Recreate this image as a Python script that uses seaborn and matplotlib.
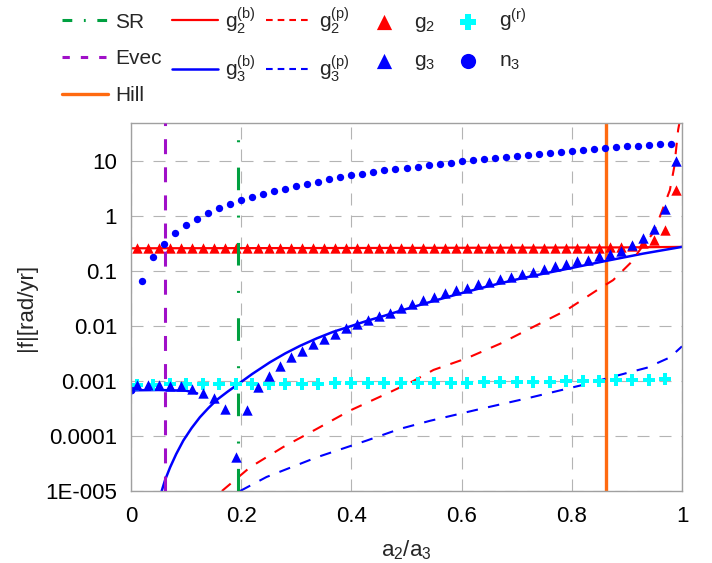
import numpy as np
import matplotlib
matplotlib.use('Agg')
import matplotlib.pyplot as plt
import seaborn as sns
from matplotlib.ticker import NullFormatter, AutoMinorLocator, LogLocator

# Style
sns.set_style('white')
plt.rcParams['font.family'] = ['Liberation Sans', 'DejaVu Sans']
plt.rcParams['mathtext.fontset'] = 'custom'
plt.rcParams['mathtext.rm'] = 'Liberation Sans'
plt.rcParams['mathtext.it'] = 'Liberation Sans'
plt.rcParams['mathtext.default'] = 'regular'

# ---- data ----
# vertical markers
x_sr = 0.195
x_evec = 0.062
x_hill = 0.862

# n3 (blue dots)
x_n3 = [0.02, 0.04, 0.06, 0.08, 0.10, 0.12, 0.14, 0.16, 0.18, 0.20,
        0.22, 0.24, 0.26, 0.28, 0.30, 0.32, 0.34, 0.36, 0.38, 0.40,
        0.42, 0.44, 0.46, 0.48, 0.50, 0.52, 0.54, 0.56, 0.58, 0.60,
        0.62, 0.64, 0.66, 0.68, 0.70, 0.72, 0.74, 0.76, 0.78, 0.80,
        0.82, 0.84, 0.86, 0.88, 0.90, 0.92, 0.94, 0.96, 0.98]
n3 = [0.067, 0.18, 0.32, 0.50, 0.69, 0.90, 1.15, 1.40, 1.68, 1.96,
      2.25, 2.55, 2.9, 3.2, 3.6, 3.9, 4.3, 4.8, 5.1, 5.6,
      6.0, 6.5, 7.0, 7.4, 7.7, 8.0, 8.6, 9.1, 9.5, 10.1,
      10.6, 11.1, 11.6, 12.2, 12.8, 13.3, 13.9, 14.5, 15.1, 15.7,
      16.2, 16.7, 17.4, 18.2, 18.9, 19.4, 20.0, 20.6, 21.1]

# g2 and g3 (triangles)
x_g = [0.01, 0.03, 0.05, 0.07, 0.09, 0.11, 0.13, 0.15, 0.17, 0.19,
       0.21, 0.23, 0.25, 0.27, 0.29, 0.31, 0.33, 0.35, 0.37, 0.39,
       0.41, 0.43, 0.45, 0.47, 0.49, 0.51, 0.53, 0.55, 0.57, 0.59,
       0.61, 0.63, 0.65, 0.67, 0.69, 0.71, 0.73, 0.75, 0.77, 0.79,
       0.81, 0.83, 0.85, 0.87, 0.89, 0.91, 0.93, 0.95, 0.97, 0.99]
g2 = [0.27, 0.27, 0.27, 0.27, 0.27, 0.27, 0.27, 0.27, 0.27, 0.27,
      0.27, 0.27, 0.27, 0.27, 0.27, 0.27, 0.27, 0.27, 0.27, 0.27,
      0.27, 0.27, 0.27, 0.27, 0.27, 0.27, 0.27, 0.27, 0.27, 0.27,
      0.27, 0.27, 0.27, 0.27, 0.27, 0.27, 0.27, 0.27, 0.27, 0.27,
      0.27, 0.27, 0.27, 0.275, 0.28, 0.29, 0.33, 0.37, 0.56, 3.0]
g3 = [0.00086, 0.00084, 0.00084, 0.00083, 0.0008, 0.00072, 0.00061, 0.00049, 0.00031, 0.000042,
      0.0003, 0.00078, 0.00126, 0.0019, 0.0027, 0.0036, 0.0048, 0.0059, 0.0073, 0.0091,
      0.0108, 0.0128, 0.0151, 0.0177, 0.0215, 0.0258, 0.0297, 0.0333, 0.0394, 0.0452,
      0.049, 0.058, 0.063, 0.071, 0.079, 0.089, 0.096, 0.108, 0.124, 0.135,
      0.151, 0.16, 0.189, 0.205, 0.236, 0.30, 0.40, 0.60, 1.34, 10.3]

# g(r) (cyan crosses)
x_gr = [0.01, 0.04, 0.07, 0.10, 0.13, 0.16, 0.19, 0.22, 0.25, 0.28, 0.31,
        0.34, 0.37, 0.40, 0.43, 0.46, 0.49, 0.52, 0.55, 0.58, 0.61, 0.64,
        0.67, 0.70, 0.73, 0.76, 0.79, 0.82, 0.85, 0.88, 0.91, 0.94, 0.97]
gr = [0.00086, 0.00086, 0.00087, 0.00087, 0.00088, 0.00088, 0.00088, 0.00089, 0.00089, 0.00090, 0.00090,
      0.00090, 0.00091, 0.00091, 0.00091, 0.00092, 0.00092, 0.00093, 0.00093, 0.00094, 0.00094, 0.00095,
      0.00096, 0.00096, 0.00097, 0.00098, 0.00099, 0.00100, 0.00101, 0.00103, 0.00104, 0.00106, 0.00108]

# g2(b) red solid
x_g2b = [0.0, 0.5, 0.9, 1.0]
g2b = [0.262, 0.266, 0.272, 0.278]

# g3(b) blue solid: main branch and the short low branch near a2/a3 = 0
x_g3b = [0.0557, 0.062, 0.071, 0.082, 0.095, 0.11, 0.125, 0.14, 0.155, 0.175, 0.195,
         0.22, 0.252, 0.28, 0.307, 0.337, 0.367, 0.40, 0.428, 0.46, 0.488, 0.55, 0.60,
         0.65, 0.70, 0.75, 0.80, 0.863, 0.93, 1.0]
g3b = [1e-5, 1.6e-5, 2.7e-5, 4.7e-5, 8.3e-5, 1.4e-4, 2.2e-4, 3.2e-4, 4.5e-4, 6.4e-4, 8.9e-4,
       1.35e-3, 2.2e-3, 3.2e-3, 4.4e-3, 6.0e-3, 7.9e-3, 0.0101, 0.0125, 0.0155, 0.019, 0.029, 0.040,
       0.054, 0.071, 0.091, 0.115, 0.155, 0.21, 0.278]
x_g3b_low = [0.0, 0.05, 0.10, 0.12]
g3b_low = [0.00068, 0.00069, 0.00067, 0.0006]

# g2(p) red dashed
x_g2p = [0.165, 0.216, 0.276, 0.337, 0.397, 0.47, 0.512, 0.549, 0.609, 0.67, 0.73, 0.79,
         0.851, 0.875, 0.906, 0.93, 0.948, 0.96, 0.978, 0.986, 0.993, 0.995]
g2p = [1e-5, 2.7e-5, 6.3e-5, 1.35e-4, 2.9e-4, 6.3e-4, 1e-3, 1.6e-3, 2.6e-3, 4.8e-3, 9.7e-3, 0.0195,
       0.049, 0.069, 0.14, 0.30, 0.5, 1.0, 3.0, 8.0, 37.6, 48.0]

# g3(p) blue dashed
x_g3p = [0.198, 0.246, 0.337, 0.428, 0.488, 0.543, 0.633, 0.724, 0.815, 0.906, 0.936, 0.978, 1.0]
g3p = [1e-5, 1.8e-5, 4.1e-5, 8.3e-5, 1.35e-4, 1.9e-4, 3.1e-4, 5e-4, 8.3e-4, 1.46e-3, 1.75e-3, 2.7e-3, 4.3e-3]

y_lo, y_hi = 1e-5, 50

C_RED = '#ff0000'
C_BLUE = '#0000ff'
C_CYAN = '#00ffff'
C_GREEN = '#00a040'
C_PURPLE = '#a010c8'
C_ORANGE = '#ff6a10'

fig = plt.figure(figsize=(7.12, 5.63), dpi=100)
ax = fig.add_axes([131/712, 72/563, 551/712, 368/563])
ax.set_yscale('log')
ax.set_xlim(0, 1)
ax.set_ylim(y_lo, y_hi)

handles = []

# vertical lines
sns.lineplot(x=[x_sr, x_sr], y=[y_lo, y_hi], color=C_GREEN, linewidth=2.2,
             linestyle=(0, (7.4, 8.3, 0.65, 8.3)), estimator=None, sort=False,
             ax=ax, zorder=4, label='SR')
handles.append(ax.lines[-1])
sns.lineplot(x=[x_evec, x_evec], y=[y_lo, y_hi], color=C_PURPLE, linewidth=2.2,
             linestyle=(0, (4.9, 4.3)), estimator=None, sort=False,
             ax=ax, zorder=4, label='Evec')
handles.append(ax.lines[-1])
sns.lineplot(x=[x_hill, x_hill], y=[y_lo, y_hi], color=C_ORANGE, linewidth=2.4,
             estimator=None, sort=False, ax=ax, zorder=1.5, label='Hill')
handles.append(ax.lines[-1])

# secular frequencies: lines
sns.lineplot(x=x_g2b, y=g2b, color=C_RED, linewidth=1.6, estimator=None, sort=False,
             ax=ax, zorder=2, label='g$_2^{(b)}$')
handles.append(ax.lines[-1])
sns.lineplot(x=x_g3b, y=g3b, color=C_BLUE, linewidth=1.8, estimator=None, sort=False,
             ax=ax, zorder=2, label='g$_3^{(b)}$')
handles.append(ax.lines[-1])
sns.lineplot(x=x_g3b_low, y=g3b_low, color=C_BLUE, linewidth=1.8, estimator=None, sort=False,
             marker='o', markersize=5, markevery=[0], markeredgecolor=C_BLUE, ax=ax, zorder=2)
sns.lineplot(x=x_g2p, y=g2p, color=C_RED, linewidth=1.5, linestyle=(0, (5.5, 5)),
             estimator=None, sort=False, ax=ax, zorder=2, label='g$_2^{(p)}$')
handles.append([l for l in ax.lines if l.get_label() == 'g$_2^{(p)}$'][0])
sns.lineplot(x=x_g3p, y=g3p, color=C_BLUE, linewidth=1.5, linestyle=(0, (5.5, 5)),
             estimator=None, sort=False, ax=ax, zorder=2, label='g$_3^{(p)}$')
handles.append([l for l in ax.lines if l.get_label() == 'g$_3^{(p)}$'][0])

# numerical frequencies: markers
sns.scatterplot(x=x_g, y=g2, marker='^', s=56, color=C_RED, linewidth=0, ax=ax, zorder=3, label='g$_2$')
handles.append(ax.collections[-1])
sns.scatterplot(x=x_g, y=g3, marker='^', s=56, color=C_BLUE, linewidth=0, ax=ax, zorder=3, label='g$_3$')
handles.append(ax.collections[-1])
sns.scatterplot(x=x_gr, y=gr, marker='P', s=65, color=C_CYAN, linewidth=0, ax=ax, zorder=2.5, label='g$^{(r)}$')
handles.append(ax.collections[-1])
sns.scatterplot(x=x_n3, y=n3, marker='o', s=28, color=C_BLUE, linewidth=0, ax=ax, zorder=3, label='n$_3$')
handles.append(ax.collections[-1])

if ax.get_legend() is not None:
    ax.get_legend().remove()

# axes cosmetics
ax.set_axisbelow(True)
ax.grid(which='major', color='#b4b4b4', linestyle=(0, (10.8, 9)), linewidth=0.8)
for sp in ax.spines.values():
    sp.set_color('#a0a0a0')
    sp.set_linewidth(1.0)
ax.set_xticks([0, 0.2, 0.4, 0.6, 0.8, 1.0], labels=['0', '0.2', '0.4', '0.6', '0.8', '1'])
ax.xaxis.set_minor_locator(AutoMinorLocator(2))
ax.set_yticks([1e-5, 1e-4, 1e-3, 1e-2, 1e-1, 1, 10],
              labels=['1E-005', '0.0001', '0.001', '0.01', '0.1', '1', '10'])
ax.yaxis.set_minor_locator(LogLocator(base=10, subs=np.arange(2, 10)))
ax.yaxis.set_minor_formatter(NullFormatter())
ax.tick_params(which='both', direction='in', color='#a0a0a0', width=0.8,
               top=False, right=False, labelsize=16, labelcolor='black')
ax.tick_params(which='major', length=5)
ax.tick_params(which='minor', length=5)
ax.tick_params(axis='y', pad=10)
ax.tick_params(axis='x', pad=11)
ax.set_xlabel('a$_2$/a$_3$', fontsize=16, labelpad=8)
ax.set_ylabel('|f|[rad/yr]', fontsize=16, labelpad=6)

labels = [h.get_label() for h in handles]
leg = fig.legend(handles, labels, loc='upper left', bbox_to_anchor=(62/712, 1 - 5/563),
                 ncol=5, frameon=False, fontsize=15, handlelength=2.2, handletextpad=0.35,
                 columnspacing=0.5, labelspacing=0.85, borderpad=0, borderaxespad=0)
lh = leg.legend_handles
lh[0].set_linestyle((0, (3.2, 3.8, 0.6, 3.8)))
lh[1].set_linestyle((0, (2.4, 3.6)))
lh[5].set_linestyle((0, (3.2, 2.4)))
lh[6].set_linestyle((0, (3.2, 2.4)))
for h in lh[7:]:
    h.set_sizes([120])

plt.savefig('out.png', dpi=100)
plt.close()
